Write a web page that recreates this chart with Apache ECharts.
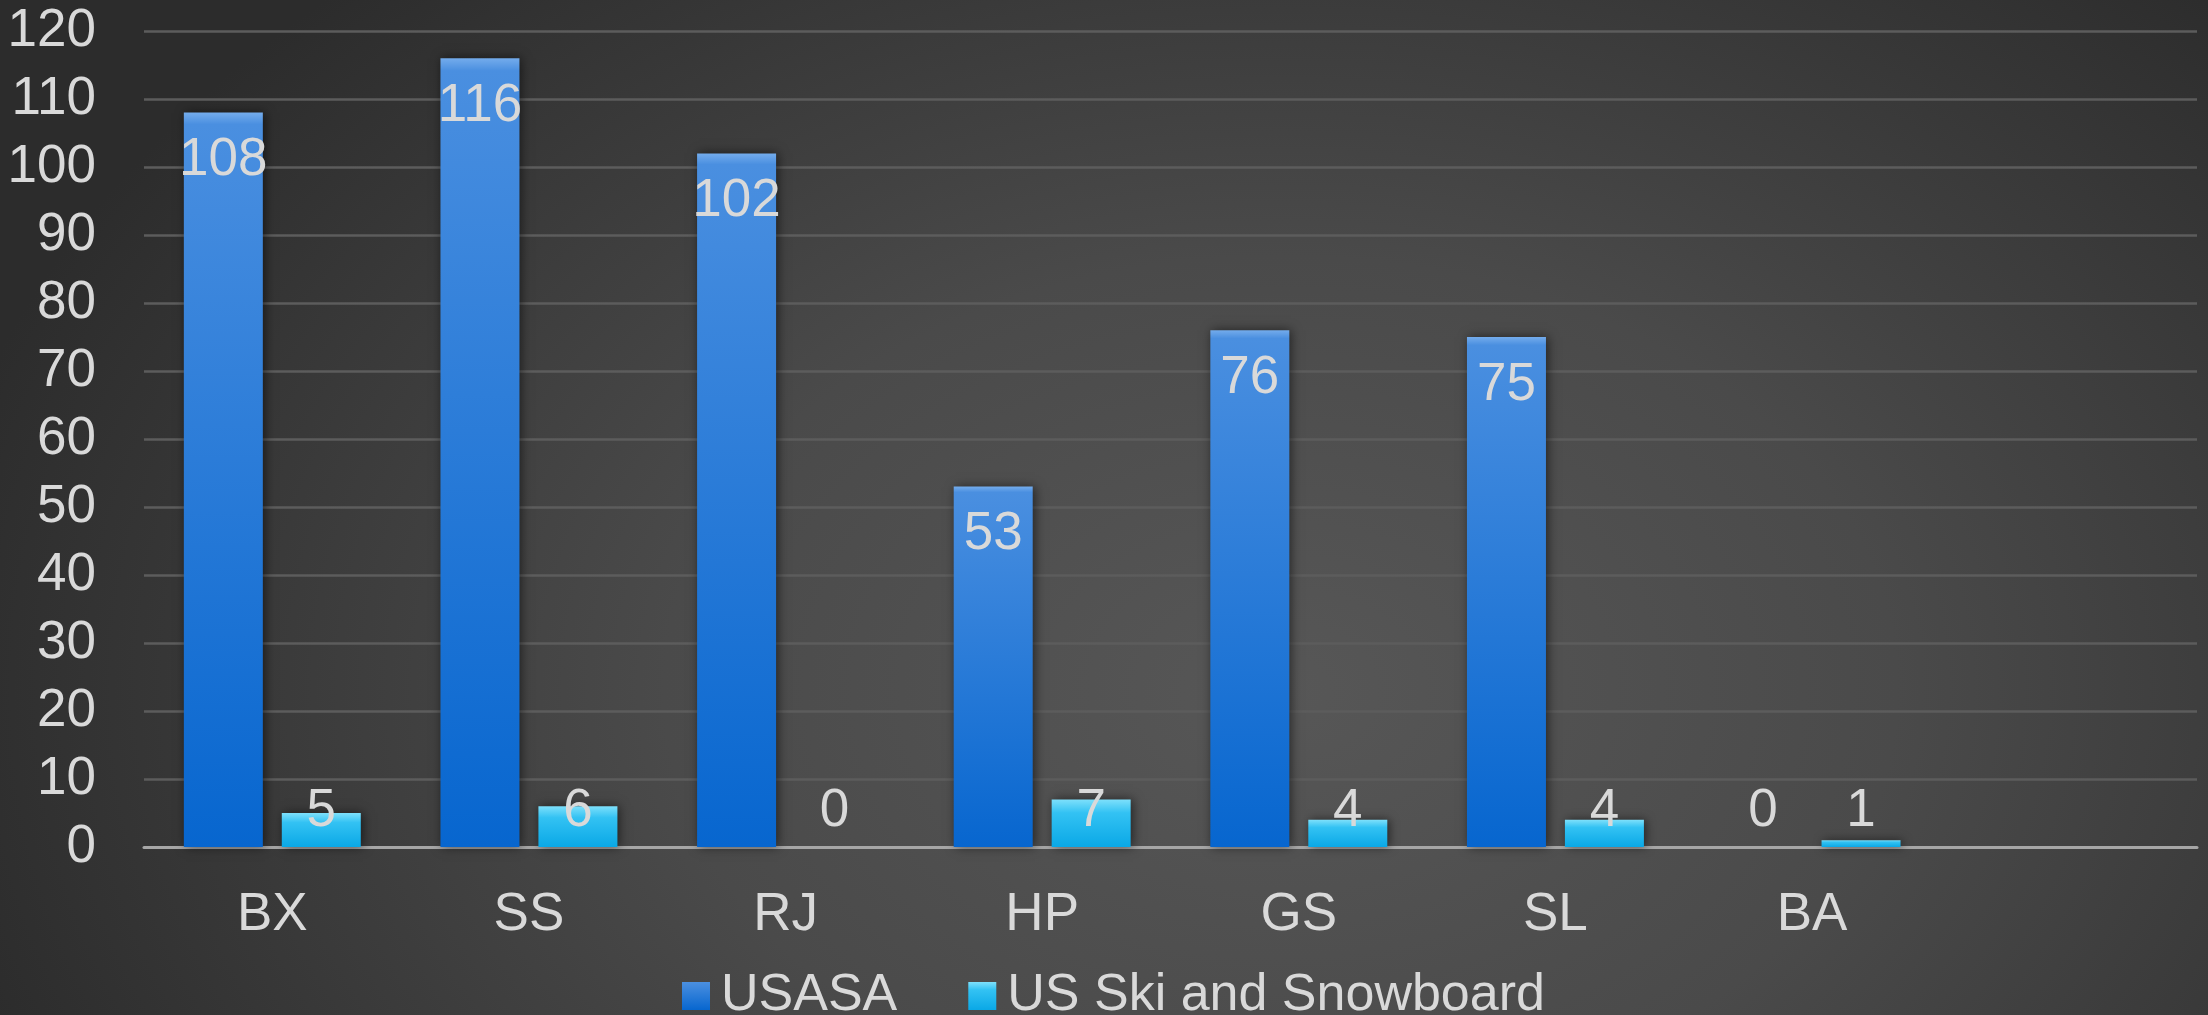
<!DOCTYPE html>
<html>
<head>
<meta charset="utf-8">
<script src="https://cdn.jsdelivr.net/npm/echarts@6/dist/echarts.min.js"></script>
<style>
html,body{margin:0;padding:0;width:2208px;height:1015px;overflow:hidden;
background:radial-gradient(ellipse 62% 95% at 58% 68%, #575757 0%, #4a4a4a 45%, #2c2c2c 100%);}
#chart{width:2208px;height:1015px;}
</style>
</head>
<body>
<div id="chart"></div>
<script>
var categories = ['BX', 'SS', 'RJ', 'HP', 'GS', 'SL', 'BA', ''];
var usasa = [108, 116, 102, 53, 76, 75, 0];
var usSki = [5, 6, 0, 7, 4, 4, 1];
var seriesNames = ['USASA', 'US Ski and Snowboard'];
var yTicks = { min: 0, max: 120, interval: 10 };

var FONT = 'Liberation Sans, Arial, sans-serif';
var TXT = '#d9d9d9';

function grad(stops) {
  return new echarts.graphic.LinearGradient(0, 0, 0, 1, stops);
}
var blueFill = grad([
  { offset: 0, color: '#74acec' },
  { offset: 0.016, color: '#4a8fe0' },
  { offset: 1, color: '#0766cf' }
]);
var cyanFill = grad([
  { offset: 0, color: '#7ee0fb' },
  { offset: 0.28, color: '#33c2f3' },
  { offset: 1, color: '#0aa8e6' }
]);

function labelled(values) {
  return values.map(function (v) {
    return {
      value: v,
      label: v < 10
        ? { position: 'insideBottom', distance: 10 }
        : { position: 'insideTop', distance: 22 }
    };
  });
}

var labelStyle = {
  show: true,
  color: TXT,
  fontFamily: FONT,
  fontSize: 53,
  lineHeight: 52
};

var chart = echarts.init(document.getElementById('chart'), null, { renderer: 'canvas' });
chart.setOption({
  backgroundColor: 'transparent',
  animation: false,
  grid: { left: 144, right: 11, top: 31, bottom: 168, containLabel: false },
  legend: {
    left: 677,
    top: 962,
    itemWidth: 28,
    itemHeight: 28,
    itemGap: 71,
    icon: 'rect',
    textStyle: { color: TXT, fontFamily: FONT, fontSize: 52, lineHeight: 58, padding: [0, 0, 0, 6] },
    data: seriesNames
  },
  xAxis: {
    type: 'category',
    data: categories,
    axisLine: { show: true, lineStyle: { color: '#a6a6a6', width: 3 } },
    axisTick: { show: false },
    axisLabel: { color: TXT, fontFamily: FONT, fontSize: 53, lineHeight: 52, margin: 42 },
    splitLine: { show: false }
  },
  yAxis: {
    type: 'value',
    min: yTicks.min,
    max: yTicks.max,
    interval: yTicks.interval,
    axisLine: { show: false },
    axisTick: { show: false },
    axisLabel: { color: TXT, fontFamily: FONT, fontSize: 53, margin: 48, padding: [6, 0, 0, 0] },
    splitLine: { lineStyle: { color: '#5c5c5c', width: 2.5 } }
  },
  series: [
    {
      name: seriesNames[0],
      type: 'bar',
      data: labelled(usasa),
      barWidth: 79,
      barGap: '24%',
      itemStyle: {
        color: blueFill,
        shadowColor: 'rgba(0,0,0,0.55)',
        shadowBlur: 10,
        shadowOffsetX: 2
      },
      label: labelStyle
    },
    {
      name: seriesNames[1],
      type: 'bar',
      data: labelled(usSki),
      barWidth: 79,
      barGap: '24%',
      itemStyle: {
        color: cyanFill,
        shadowColor: 'rgba(0,0,0,0.55)',
        shadowBlur: 10,
        shadowOffsetX: 2
      },
      label: labelStyle
    }
  ]
});
</script>
</body>
</html>
